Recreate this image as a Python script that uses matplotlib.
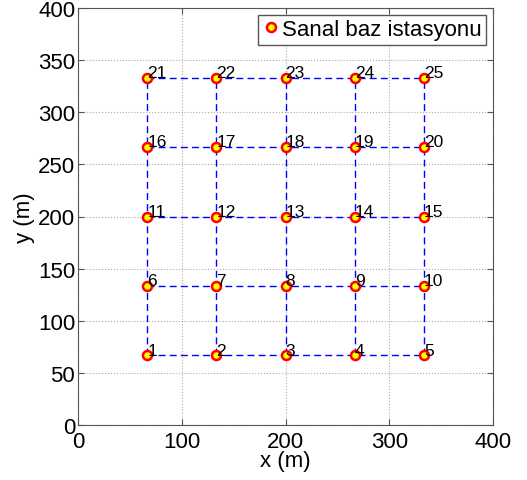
import numpy as np
import matplotlib.pyplot as plt

plt.rcParams['font.family'] = ['Liberation Sans', 'DejaVu Sans']

# virtual base station grid positions (m)
grid_x = [66.67, 133.33, 200.0, 266.67, 333.33]
grid_y = [66.67, 133.33, 200.0, 266.67, 333.33]
station_ids = list(range(1, 26))

xs = [x for y in grid_y for x in grid_x]
ys = [y for y in grid_y for x in grid_x]

fig = plt.figure(figsize=(5.27, 4.81), dpi=100)
ax = fig.add_axes([78/527, 1 - 426/481, 415/527, 417/481])

# dashed connections between neighbouring stations
for y in grid_y:
    ax.plot([grid_x[0], grid_x[-1]], [y, y], '--', color='blue', lw=1, dashes=(5, 3))
for x in grid_x:
    ax.plot([x, x], [grid_y[0], grid_y[-1]], '--', color='blue', lw=1, dashes=(5, 3))

ax.plot(xs, ys, 'o', ls='none', markersize=6.5, markerfacecolor='yellow',
        markeredgecolor='red', markeredgewidth=1.8, label='Sanal baz istasyonu', zorder=5)

for i, (x, y) in enumerate(zip(xs, ys)):
    ax.annotate(str(station_ids[i]), (x, y), xytext=(0, -1.5), textcoords='offset points',
                ha='left', va='bottom', fontsize=12.5, zorder=6)

ax.set_xlim(0, 400)
ax.set_ylim(0, 400)
ax.set_xticks(range(0, 401, 100))
ax.set_yticks(range(0, 401, 50))
ax.tick_params(direction='in', top=True, right=True, labelsize=16, length=4,
               color='#555555', pad=2)
ax.tick_params(axis='x', pad=4)
for s in ax.spines.values():
    s.set_color('#555555')
ax.grid(True, ls=':', color='#aaaaaa', lw=0.8)
ax.set_axisbelow(True)
ax.set_xlabel('x (m)', fontsize=16, labelpad=-1)
ax.set_ylabel('y (m)', fontsize=16, labelpad=2)

leg = ax.legend(loc='upper right', fontsize=16, handletextpad=0.1, borderpad=0.2,
                handlelength=0.8, fancybox=False, framealpha=1, borderaxespad=0.3)
leg.get_frame().set_edgecolor('#555555')

fig.savefig('out.png', dpi=100)
